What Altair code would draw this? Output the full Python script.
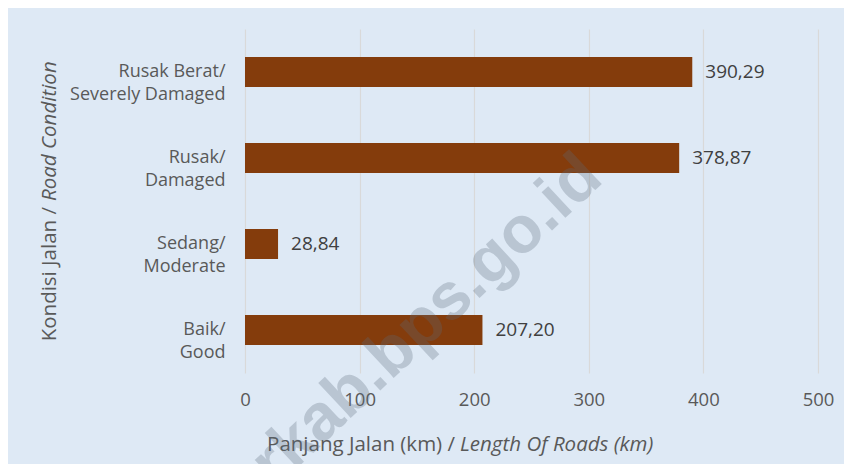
import altair as alt
import pandas as pd

# --- data ---
cat_id = ["Rusak Berat/", "Rusak/", "Sedang/", "Baik/"]
cat_en = ["Severely Damaged", "Damaged", "Moderate", "Good"]
values = [390.29, 378.87, 28.84, 207.20]
x_ticks = [0, 100, 200, 300, 400, 500]

x_title_id = "Panjang Jalan (km) /"
x_title_en = "Length Of Roads (km)"
y_title_id = "Kondisi Jalan /"
y_title_en = "Road Condition"
watermark = "erkab.bps.go.id"

cats = [a + "\n" + b for a, b in zip(cat_id, cat_en)]
df = pd.DataFrame({"cat": cats, "value": values})

FONT = "Open Sans"
GREY = "#595959"
W, H = 573, 344

base = alt.Chart(df).encode(
    y=alt.Y("cat:N", sort=cats, title=None,
            scale=alt.Scale(paddingInner=0.65, paddingOuter=0.325),
            axis=alt.Axis(labelExpr="split(datum.label, '\\n')", domain=False, ticks=False,
                          labelPadding=20, labelFontSize=18, labelColor=GREY,
                          labelFont=FONT, labelLineHeight=23, grid=False)),
)

bars = base.mark_bar(color="#843c0c").encode(
    x=alt.X("value:Q", title=None, scale=alt.Scale(domain=[0, 500], nice=False),
            axis=alt.Axis(values=x_ticks, grid=True, gridColor="#d9d9d9", gridWidth=1.2,
                          domain=False, ticks=False, labelPadding=17, labelFontSize=18.5,
                          labelColor=GREY, labelFont=FONT, labelFlush=False)),
)

labels = base.mark_text(align="left", baseline="middle", dx=13, fontSize=19,
                        font=FONT, color="#404040").transform_calculate(
    lab="replace(format(datum.value, '.2f'), '.', ',')"
).encode(x="value:Q", text="lab:N")

def txt(s, **kw):
    return alt.Chart(alt.Data(values=[{"t": s}])).mark_text(
        font=FONT, fontSize=20.5, color=GREY, **kw).encode(text="t:N")

xt1 = txt(x_title_id, align="right", baseline="middle").encode(
    x=alt.value(210), y=alt.value(416))
xt2 = txt(x_title_en, align="left", baseline="middle", fontStyle="italic").encode(
    x=alt.value(215), y=alt.value(416))
yt1 = txt(y_title_id, align="right", baseline="middle", angle=270).encode(
    x=alt.value(-195), y=alt.value(178))
yt2 = txt(y_title_en, align="left", baseline="middle", angle=270, fontStyle="italic").encode(
    x=alt.value(-195), y=alt.value(172))

wm = alt.Chart(alt.Data(values=[{"t": watermark}])).mark_text(
    font="Liberation Sans", fontWeight="bold", fontSize=66, color="#5b6b7c", opacity=0.28,
    align="right", baseline="alphabetic", angle=317).encode(
    text="t:N", x=alt.value(360), y=alt.value(152))

chart = alt.layer(bars, labels, xt1, xt2, yt1, yt2, wm).properties(
    width=W, height=H,
    autosize=alt.AutoSizeParams(type="none"),
    padding={"left": 237, "top": 21, "right": 26, "bottom": 91},
    background="#dee9f5",
).configure_view(stroke=None)

chart.save("out.html", embed_options={"renderer": "svg", "actions": False})
